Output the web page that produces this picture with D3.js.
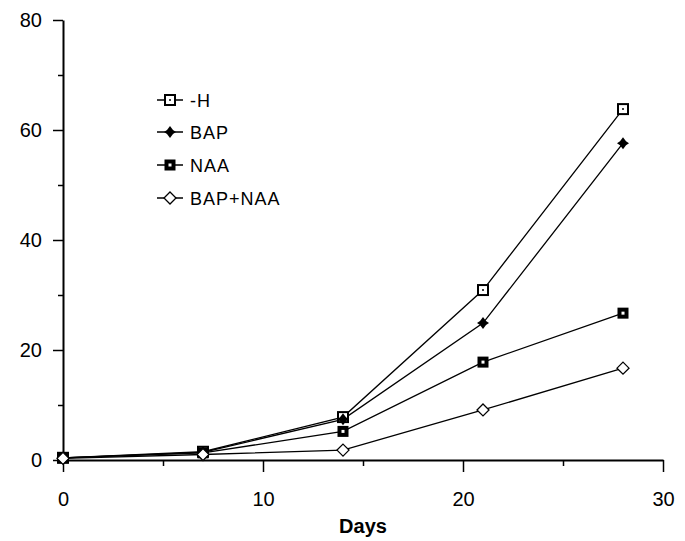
<!DOCTYPE html>
<html>
<head>
<meta charset="utf-8">
<script src="https://cdn.jsdelivr.net/npm/d3@7"></script>
<style>
  body { margin: 0; background: #fff; }
  text { font-family: "Liberation Sans", Arial, sans-serif; fill: #000; }
</style>
</head>
<body>
<svg width="685" height="541"></svg>
<script>
var days = [0, 7, 14, 21, 28];
var seriesNames = ["-H", "BAP", "NAA", "BAP+NAA"];
var valsH = [0.4, 1.5, 7.8, 30.9, 63.8];
var valsBAP = [0.4, 1.4, 7.4, 24.9, 57.6];
var valsNAA = [0.4, 1.3, 5.2, 17.8, 26.7];
var valsBAPNAA = [0.3, 1.0, 1.8, 9.1, 16.7];
var yMajor = [0, 20, 40, 60, 80];
var yMinor = [10, 30, 50, 70];
var xMajor = [0, 10, 20, 30];
var xMinor = [5, 15, 25];

var svg = d3.select("svg");

var x = d3.scaleLinear().domain([0, 30]).range([63, 663]),
    y = d3.scaleLinear().domain([0, 80]).range([460, 20]);

var series = [
  {name: seriesNames[0], values: valsH, kind: "openSquare"},
  {name: seriesNames[1], values: valsBAP, kind: "filledDiamond"},
  {name: seriesNames[2], values: valsNAA, kind: "boldSquare"},
  {name: seriesNames[3], values: valsBAPNAA, kind: "openDiamond"}
];

// axes
var yAxis = svg.append("g").attr("transform", "translate(" + x(0) + ",0)");
yAxis.call(d3.axisLeft(y).tickValues(yMajor).tickSize(10).tickSizeOuter(0).tickPadding(11).tickFormat(d3.format("d")));
yAxis.append("g").call(d3.axisLeft(y).tickValues(yMinor).tickSize(5).tickFormat(""))
  .select(".domain").remove();

var xAxis = svg.append("g").attr("transform", "translate(0," + y(0) + ")");
xAxis.call(d3.axisBottom(x).tickValues(xMajor).tickSize(12).tickSizeOuter(0).tickPadding(20).tickFormat(d3.format("d")));
xAxis.append("g").call(d3.axisBottom(x).tickValues(xMinor).tickSize(6).tickFormat(""))
  .select(".domain").remove();

svg.selectAll(".domain").attr("stroke-width", 2);
svg.selectAll(".tick line").attr("stroke-width", 1.5);
svg.selectAll(".tick text").style("font-size", "20px").style("font-family", "Liberation Sans, Arial, sans-serif");

svg.append("text")
  .attr("x", 363).attr("y", 533)
  .attr("text-anchor", "middle")
  .style("font-size", "20px").style("font-weight", "bold")
  .text("Days");

// lines
var line = d3.line()
  .x(function(d, i) { return x(days[i]); })
  .y(function(d) { return y(d); });

svg.selectAll(".series")
  .data(series)
  .enter().append("path")
  .attr("class", "series")
  .attr("fill", "none")
  .attr("stroke", "#000")
  .attr("stroke-width", 1.3)
  .attr("d", function(d) { return line(d.values); });

function drawMarker(g, kind) {
  if (kind == "openSquare") {
    g.append("rect").attr("x", -5).attr("y", -5).attr("width", 10).attr("height", 10)
      .attr("fill", "#fff").attr("stroke", "#000").attr("stroke-width", 2);
    g.append("circle").attr("r", 1).attr("fill", "#000");
  } else if (kind == "filledDiamond") {
    g.append("path").attr("d", "M0,-6 L3,-2 L6,0 L3,2 L0,6 L-3,2 L-6,0 L-3,-2Z").attr("fill", "#000");
  } else if (kind == "boldSquare") {
    g.append("rect").attr("x", -5.5).attr("y", -5.5).attr("width", 11).attr("height", 11).attr("fill", "#000");
    g.append("rect").attr("x", -1.5).attr("y", -1.5).attr("width", 3).attr("height", 3).attr("fill", "#fff");
  } else {
    g.append("path").attr("d", "M0,-6 L6,0 L0,6 L-6,0Z")
      .attr("fill", "#fff").attr("stroke", "#000").attr("stroke-width", 1.3);
  }
}

series.forEach(function(s) {
  s.values.forEach(function(v, i) {
    var g = svg.append("g").attr("transform", "translate(" + x(days[i]) + "," + y(v) + ")");
    drawMarker(g, s.kind);
  });
});

// legend
var legendY = [100, 132, 165, 198];
series.forEach(function(s, i) {
  var g = svg.append("g").attr("transform", "translate(170," + legendY[i] + ")");
  g.append("line").attr("x1", -13).attr("x2", 13).attr("stroke", "#000").attr("stroke-width", 1.5);
  drawMarker(g, s.kind);
  g.append("text").attr("x", 20).attr("y", 7).style("font-size", "18px").style("letter-spacing", "1px").text(s.name);
});
</script>
</body>
</html>
